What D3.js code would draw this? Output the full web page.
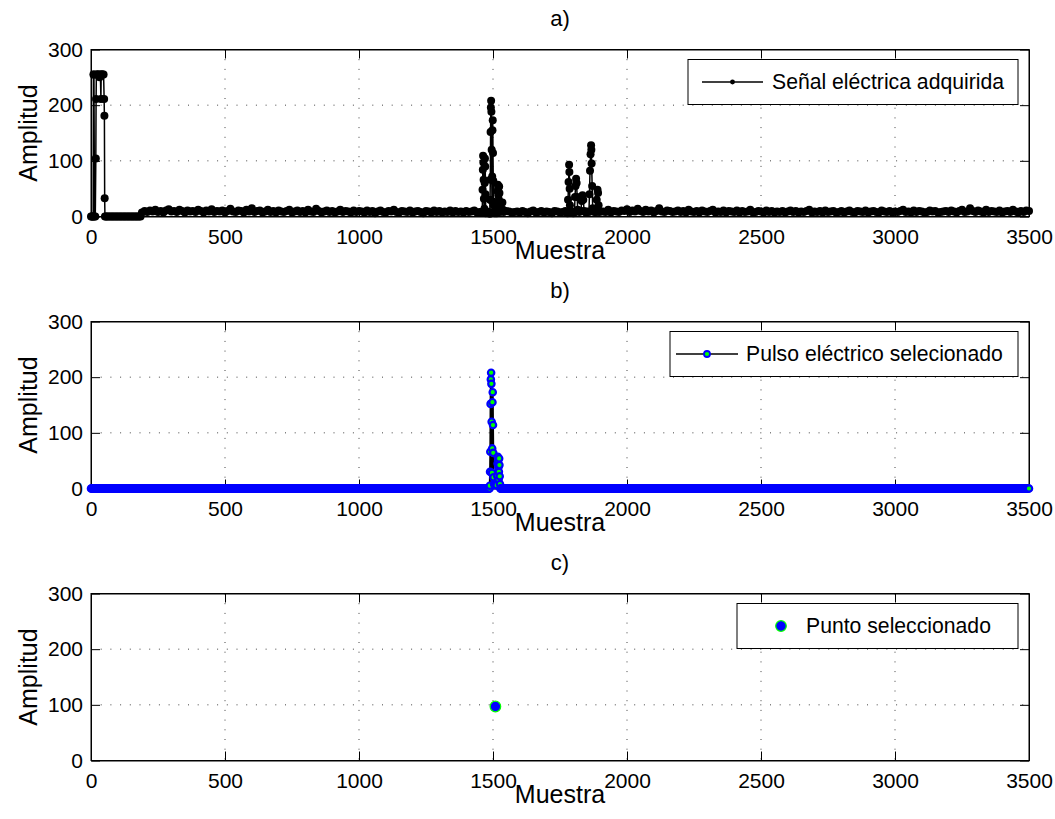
<!DOCTYPE html>
<html>
<head>
<meta charset="utf-8">
<script src="https://cdn.jsdelivr.net/npm/d3@7"></script>
<style>
  body { margin: 0; background: #fff; }
  text { font-family: "Liberation Sans", Arial, sans-serif; fill: #000; }
</style>
</head>
<body>
<div id="figura"></div>
<script>
// ---- datos ----
var muestraTicks = [0, 500, 1000, 1500, 2000, 2500, 3000, 3500];
var amplitudTicks = [0, 100, 200, 300];
var titulos = ["a)", "b)", "c)"];
var leyendas = ["Señal eléctrica adquirida", "Pulso eléctrico selecionado", "Punto seleccionado"];

// rafaga inicial (muestra, amplitud)
var rafagaInicio = [[0,0],[3,0],[6,0],[8,0],[9,255],[11,255],[13,0],[16,0],[18,104],[19,211],[20,255],
  [23,255],[26,255],[29,255],[32,250],[35,255],[37,211],[38,255],[41,255],[44,255],[47,255],[49,211],
  [50,181],[51,33],[52,0],[56,0],[60,0],[65,0],[70,0],[75,0],[80,0],[85,0],[90,0],[95,0],[100,0],
  [105,0],[110,0],[115,0],[120,0],[125,0],[130,0],[135,0],[140,0],[145,0],[150,0],[155,0],[160,0],
  [165,0],[170,0],[175,0],[180,0],[185,0]];

// ruido de fondo, una muestra cada 10 desde la 190
var ruidoInicio = 190;
var ruidoPaso = 10;
var ruido = [
  7,10,8,11,9,12,8,10,7,11,13,9,10,8,12,10,7,11,9,10,
  8,12,10,7,11,9,13,8,10,9,11,7,10,14,9,8,11,10,7,12,
  9,15,8,10,11,7,9,12,8,10,7,11,9,8,10,12,7,9,11,8,
  10,7,12,9,8,14,10,7,9,11,8,10,7,9,12,8,10,9,7,11,
  8,10,9,7,11,8,10,6,9,11,8,7,10,9,12,8,7,10,9,8,
  11,7,9,10,8,6,10,9,7,11,8,10,7,9,8,11,7,10,8,9,
  7,10,8,9,11,7,8,10,9,7,8,10,9,7,11,8,10,9,7,8,
  9,7,10,8,6,9,11,7,8,10,7,9,8,6,10,9,7,8,10,9,
  7,9,8,10,6,8,9,7,11,8,10,7,9,8,12,7,10,9,8,11,
  10,13,8,11,9,14,10,8,12,9,11,7,10,15,9,8,11,10,8,9,
  11,8,10,7,12,9,8,10,7,11,9,8,10,12,7,9,8,11,7,10,
  9,8,11,7,10,8,9,12,7,8,10,9,7,11,8,10,7,9,8,10,
  7,9,11,8,10,7,9,8,10,12,7,9,8,10,7,11,8,9,10,7,
  8,10,7,9,11,8,7,10,9,8,11,7,9,10,8,7,11,9,8,10,
  7,9,8,10,12,8,9,7,11,8,10,9,7,8,11,9,10,7,8,9,
  10,8,11,9,7,10,12,8,9,15,10,8,11,9,7,12,8,10,9,8,
  11,7,9,10,8,12,9,7,10,8,11,10
];

// pulsos alrededor de 1500
var pico1 = [[1458,7],[1460,8],[1461,48],[1462,84],[1463,109],[1464,97],[1465,66],[1466,32],[1467,10],
  [1468,14],[1469,60],[1470,104],[1471,90],[1472,40],[1473,6],[1476,9],[1480,7]];
var pico2 = [[1486,8],[1488,5],[1489,30],[1490,66],[1491,152],[1492,196],[1493,208],[1494,188],[1495,120],
  [1496,28],[1497,72],[1498,155],[1499,173],[1500,114],[1501,64],[1502,20],[1504,8],[1507,6]];
var pico3 = [[1512,7],[1514,6],[1516,22],[1517,45],[1518,57],[1519,50],[1520,38],[1521,16],[1522,30],
  [1523,54],[1524,42],[1525,22],[1526,8],[1530,10],[1535,25],[1537,12],[1540,8]];
// pulsos alrededor de 1800
var pico4 = [[1776,7],[1778,6],[1780,30],[1782,62],[1784,93],[1785,80],[1786,50],[1787,20],[1788,8],
  [1795,9],[1800,6],[1804,8],[1806,35],[1808,55],[1810,68],[1812,60],[1814,35],[1816,12],[1822,8]];
var pico5 = [[1828,10],[1831,28],[1834,38],[1837,30],[1840,10],[1846,7],[1852,9],[1858,8],[1860,40],
  [1862,82],[1864,112],[1866,128],[1867,120],[1868,95],[1870,55],[1872,15],[1878,8],[1884,8],[1887,30],
  [1890,48],[1892,42],[1894,20],[1896,8],[1900,9]];

// ventana del pulso seleccionado y punto seleccionado
var ventanaPulso = [1488, 1527];
var puntoSel = [[1509, 97]];

// ---- armado de series ----
var eventos = [pico1, pico2, pico3, pico4, pico5];
var serieA = rafagaInicio.slice();
ruido.forEach(function (v, i) {
  var m = ruidoInicio + i * ruidoPaso;
  var dentro = eventos.some(function (p) { return m >= p[0][0] && m <= p[p.length - 1][0]; });
  if (!dentro) serieA.push([m, v]);
});
eventos.forEach(function (p) { serieA = serieA.concat(p); });
serieA.sort(function (a, b) { return a[0] - b[0]; });

// b) ceros fuera de la ventana, la señal dentro de ella
var serieB = [];
d3.range(0, 3501, 2).forEach(function (m) {
  if (m < ventanaPulso[0] || m > ventanaPulso[1]) serieB.push([m, 0]);
});
serieA.forEach(function (d) {
  if (d[0] >= ventanaPulso[0] && d[0] <= ventanaPulso[1]) serieB.push(d);
});
serieB.push([ventanaPulso[0] - 1, 0], [ventanaPulso[1] + 1, 0]);
serieB.sort(function (a, b) { return a[0] - b[0]; });

// ---- dibujo ----
var svgWidth = 1055, svgHeight = 819;
var left = 91, right = 1029, alto = 167;
var tops = [49.5, 321.5, 593.5];

var svg = d3.select("#figura").append("svg")
  .attr("width", svgWidth)
  .attr("height", svgHeight);

var x = d3.scaleLinear().domain([0, 3500]).range([left, right]);

function panel(k) {
  var top = tops[k];
  var y = d3.scaleLinear().domain([0, 300]).range([top + alto, top]);
  var g = svg.append("g");

  // grid punteado
  g.selectAll(".gx").data(muestraTicks.slice(1, -1)).enter().append("line")
    .attr("x1", function (d) { return x(d); }).attr("x2", function (d) { return x(d); })
    .attr("y1", top).attr("y2", top + alto)
    .attr("stroke", "#444").attr("stroke-width", 1).attr("stroke-dasharray", "1,8.7");
  g.selectAll(".gy").data(amplitudTicks.slice(1, -1)).enter().append("line")
    .attr("x1", left).attr("x2", right)
    .attr("y1", function (d) { return y(d); }).attr("y2", function (d) { return y(d); })
    .attr("stroke", "#444").attr("stroke-width", 1).attr("stroke-dasharray", "1,8.7");

  // ejes (ticks hacia adentro, en los cuatro lados)
  var tl = 9;
  g.append("g").attr("transform", "translate(0," + (top + alto) + ")")
    .call(d3.axisBottom(x).tickValues(muestraTicks).tickFormat(d3.format("d"))
      .tickSizeInner(-tl).tickSizeOuter(0).tickPadding(13));
  g.append("g").attr("transform", "translate(0," + top + ")")
    .call(d3.axisTop(x).tickValues(muestraTicks).tickSizeInner(-tl).tickSizeOuter(0).tickFormat(""));
  g.append("g").attr("transform", "translate(" + left + ",0)")
    .call(d3.axisLeft(y).tickValues(amplitudTicks).tickSizeInner(-tl).tickSizeOuter(0).tickPadding(8));
  g.append("g").attr("transform", "translate(" + right + ",0)")
    .call(d3.axisRight(y).tickValues(amplitudTicks).tickSizeInner(-tl).tickSizeOuter(0).tickFormat(""));
  g.selectAll(".domain").attr("stroke", "#000");
  g.selectAll(".tick line").attr("stroke", "#000");
  g.selectAll(".tick text").style("font-size", "21px").attr("fill", "#000");

  g.append("rect").attr("x", left).attr("y", top).attr("width", right - left).attr("height", alto)
    .attr("fill", "none").attr("stroke", "#000").attr("stroke-width", 1);

  // textos
  g.append("text").attr("x", (left + right) / 2).attr("y", top - 24)
    .attr("text-anchor", "middle").style("font-size", "22px").text(titulos[k]);
  g.append("text").attr("x", (left + right) / 2).attr("y", top + alto + 42)
    .attr("text-anchor", "middle").style("font-size", "25px").text("Muestra");
  g.append("text").attr("transform", "translate(37," + (top + alto / 2) + ") rotate(-90)")
    .attr("text-anchor", "middle").style("font-size", "25px").text("Amplitud");

  return { g: g, y: y, top: top };
}

var line = function (y) {
  return d3.line().x(function (d) { return x(d[0]); }).y(function (d) { return y(d[1]); });
};

// a)
var pa = panel(0);
pa.g.append("path").datum(serieA).attr("d", line(pa.y))
  .attr("fill", "none").attr("stroke", "#000").attr("stroke-width", 1.5);
pa.g.selectAll(".pa").data(serieA).enter().append("circle")
  .attr("cx", function (d) { return x(d[0]); }).attr("cy", function (d) { return pa.y(d[1]); })
  .attr("r", 4).attr("fill", "#000");

// b)
var pb = panel(1);
pb.g.append("path").datum(serieB).attr("d", line(pb.y))
  .attr("fill", "none").attr("stroke", "#000").attr("stroke-width", 2);
pb.g.selectAll(".pb").data(serieB).enter().append("circle")
  .attr("cx", function (d) { return x(d[0]); }).attr("cy", function (d) { return pb.y(d[1]); })
  .attr("r", 3.2).attr("fill", "#00ff00").attr("stroke", "#0000ff").attr("stroke-width", 2.2);

// c)
var pc = panel(2);
pc.g.selectAll(".pc").data(puntoSel).enter().append("circle")
  .attr("cx", function (d) { return x(d[0]); }).attr("cy", function (d) { return pc.y(d[1]); })
  .attr("r", 5.3).attr("fill", "#0000ff").attr("stroke", "#00ff00").attr("stroke-width", 1.2);

// leyendas
function leyenda(p, caja, tipo, texto) {
  var g = svg.append("g");
  var y0 = p.top + 10, h = 45, yc = y0 + h / 2;
  g.append("rect").attr("x", caja[0]).attr("y", y0).attr("width", caja[1] - caja[0]).attr("height", h)
    .attr("fill", "#fff").attr("stroke", "#000").attr("stroke-width", 1);
  if (tipo !== "c") {
    g.append("line").attr("x1", caja[2]).attr("x2", caja[3]).attr("y1", yc).attr("y2", yc)
      .attr("stroke", "#000").attr("stroke-width", 1.5);
  }
  var mx = (caja[2] + caja[3]) / 2;
  if (tipo === "a") {
    g.append("circle").attr("cx", mx).attr("cy", yc).attr("r", 2.4).attr("fill", "#000");
  } else if (tipo === "b") {
    g.append("circle").attr("cx", mx).attr("cy", yc).attr("r", 3)
      .attr("fill", "#00ff00").attr("stroke", "#0000ff").attr("stroke-width", 1.8);
  } else {
    g.append("circle").attr("cx", mx).attr("cy", yc).attr("r", 5.3)
      .attr("fill", "#0000ff").attr("stroke", "#00ff00").attr("stroke-width", 1.2);
  }
  g.append("text").attr("x", caja[4]).attr("y", yc + 7).style("font-size", "21.2px").text(texto);
}
leyenda(pa, [688, 1018, 702, 763, 772], "a", leyendas[0]);
leyenda(pb, [670, 1018, 676, 738, 746], "b", leyendas[1]);
leyenda(pc, [737, 1018, 760, 802, 806], "c", leyendas[2]);
</script>
</body>
</html>
